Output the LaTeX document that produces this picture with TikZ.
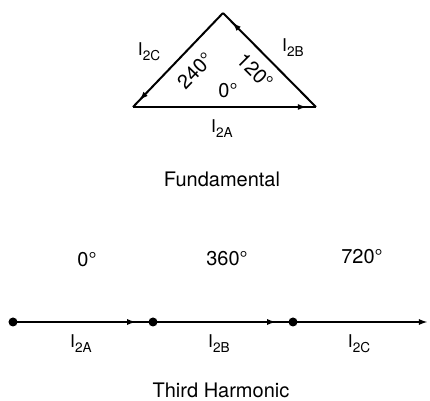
\documentclass[tikz,border=0pt]{standalone}
\usepackage{fontspec}
\setmainfont{TeX Gyre Heros}
\usetikzlibrary{arrows.meta,decorations.markings}
\newcommand\curlab[1]{\fontsize{8.8}{10}\selectfont I\raisebox{-0.55ex}{\fontsize{6.8}{8}\selectfont #1}}
\begin{document}
\begin{tikzpicture}[x=0.5pt,y=-0.5pt,
  vec/.style={line width=1pt},
  arrat/.style={postaction={decorate},decoration={markings,
     mark=at position #1 with {\arrow{Latex[length=4.5pt,width=3pt]}}}},
  lab/.style={font=\fontsize{10}{12}\selectfont, inner sep=0pt},
  dot/.style={circle,fill=black,inner sep=0pt,minimum size=4.5pt}]
\useasboundingbox (0,0) rectangle (430,401);
% triangle
\coordinate (T) at (223,13);
\coordinate (L) at (133,107);
\coordinate (R) at (316,107);
\draw[vec,arrat=0.95] (L) -- (R);
\draw[vec,arrat=0.90] (R) -- (T);
\draw[vec,arrat=0.93] (T) -- (L);
\node[lab] (i2c) at (149,52) {\curlab{2C}};
\node[lab,rotate=46] (a240) at (195,71) {240°};
\node[lab] (i2b) at (293,48) {\curlab{2B}};
\node[lab,rotate=-45] (a120) at (255,71) {120°};
\node[lab] (a0) at (228,91) {0°};
\node[lab] (i2a) at (222,129) {\curlab{2A}};
\node[lab] (fund) at (222,179) {Fundamental};
% third harmonic
\node[lab] (d0) at (87,260) {0°};
\node[lab] (d360) at (227,259) {360°};
\node[lab] (d720) at (362,257) {720°};
\node[dot] (p1) at (13,322) {};
\node[dot] (p2) at (153,322) {};
\node[dot] (p3) at (293,322) {};
\coordinate (p4) at (428,322);
\draw[vec,arrat=0.88] (p1.center) -- (p2.center);
\draw[vec,arrat=0.88] (p2.center) -- (p3.center);
\draw[vec,-{Latex[length=4.5pt,width=3pt]}] (p3.center) -- (p4);
\node[lab] (b2a) at (81,344) {\curlab{2A}};
\node[lab] (b2b) at (219,344) {\curlab{2B}};
\node[lab] (b2c) at (359,344) {\curlab{2C}};
\node[lab] (third) at (221,390) {Third Harmonic};
\end{tikzpicture}
\end{document}
